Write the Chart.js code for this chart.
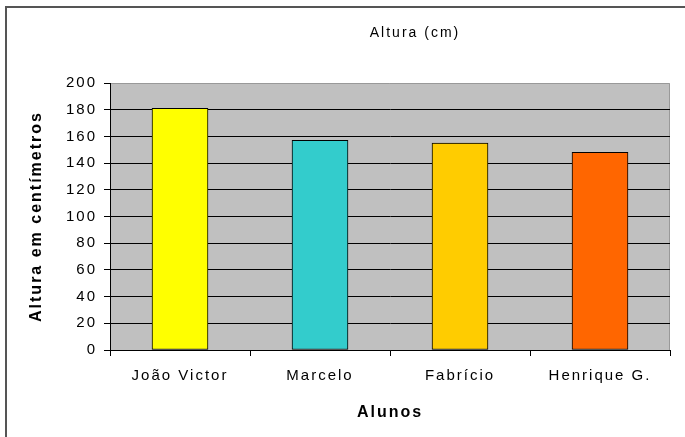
<!DOCTYPE html>
<html>
<head>
<meta charset="utf-8">
<script src="https://cdn.jsdelivr.net/npm/chart.js@4/dist/chart.umd.min.js"></script>
<style>
    body { margin: 0; background: #fff; }
    #wrap { position: relative; width: 685px; height: 437px; }
    #frame { position: absolute; left: 5px; top: 6px; right: 0; bottom: 0;
             border-left: 2px solid #555; border-top: 2px solid #555; }
    canvas { position: absolute; left: 0; top: 0; }
</style>
</head>
<body>
<div id="wrap">
    <div id="frame"></div>
    <canvas id="alturaChart" width="685" height="437"></canvas>
</div>
<script>
// Data
const alunos = ['João Victor', 'Marcelo', 'Fabrício', 'Henrique G.'];
const alturas = [181, 157, 155, 148];
const cores = ['#FFFF00', '#33CCCC', '#FFCC00', '#FF6600'];
const yTicks = [0, 20, 40, 60, 80, 100, 120, 140, 160, 180, 200];

const fontFamily = '"Liberation Sans", Arial, sans-serif';

// Grey plot background, letter spacing, title
const plotPlugin = {
    id: 'plotPlugin',
    beforeDraw(chart) {
        const ctx = chart.ctx;
        const a = chart.chartArea;
        ctx.letterSpacing = '2px';
        ctx.save();
        ctx.fillStyle = '#C0C0C0';
        ctx.fillRect(a.left, a.top, a.right - a.left, a.bottom - a.top);
        ctx.strokeStyle = '#999999';
        ctx.lineWidth = 1;
        ctx.beginPath();
        ctx.moveTo(a.left, a.top + 0.5);
        ctx.lineTo(a.right - 0.5, a.top + 0.5);
        ctx.lineTo(a.right - 0.5, a.bottom);
        ctx.stroke();
        ctx.restore();
    },
    afterDraw(chart) {
        const ctx = chart.ctx;
        const a = chart.chartArea;
        ctx.save();
        ctx.font = '14px ' + fontFamily;
        ctx.fillStyle = '#000';
        ctx.textAlign = 'center';
        ctx.textBaseline = 'middle';
        ctx.fillText('Altura (cm)', (a.left + a.right) / 2 + 25, 33);
        ctx.restore();
    }
};

new Chart(document.getElementById('alturaChart').getContext('2d'), {
    type: 'bar',
    data: {
        labels: alunos,
        datasets: [{
            label: 'Altura (cm)',
            data: alturas,
            backgroundColor: cores,
            borderColor: '#000',
            borderWidth: 1,
            borderSkipped: false,
            barThickness: 56
        }]
    },
    options: {
        responsive: false,
        animation: false,
        layout: { padding: { top: 83, right: 15, bottom: 0, left: 0 } },
        plugins: {
            legend: { display: false },
            tooltip: { enabled: false }
        },
        scales: {
            x: {
                offset: true,
                afterFit(scale) { scale.height = 87; },
                grid: {
                    offset: true,
                    drawOnChartArea: false,
                    drawTicks: true,
                    tickLength: 6,
                    tickColor: '#000'
                },
                border: { color: '#000', width: 1 },
                ticks: {
                    color: '#000',
                    padding: 11,
                    maxRotation: 0,
                    font: { family: fontFamily, size: 15 }
                },
                title: {
                    display: true,
                    text: 'Alunos',
                    color: '#000',
                    font: { family: fontFamily, size: 16, weight: 'bold' },
                    padding: { top: 0, bottom: 15 }
                }
            },
            y: {
                min: 0,
                max: 200,
                afterFit(scale) { scale.width = 110; },
                afterBuildTicks(scale) {
                    scale.ticks = yTicks.map(v => ({ value: v }));
                },
                grid: {
                    color: ctx => (ctx.tick && ctx.tick.value === 200) ? 'rgba(0,0,0,0)' : '#000',
                    tickColor: '#000',
                    tickLength: 6,
                    lineWidth: 1
                },
                border: { color: '#000', width: 1 },
                ticks: {
                    color: '#000',
                    padding: 7,
                    font: { family: fontFamily, size: 15 }
                },
                title: {
                    display: true,
                    text: 'Altura em centímetros',
                    color: '#000',
                    font: { family: fontFamily, size: 16, weight: 'bold' },
                    padding: { top: 27, bottom: 0 }
                }
            }
        }
    },
    plugins: [plotPlugin]
});
</script>
</body>
</html>
